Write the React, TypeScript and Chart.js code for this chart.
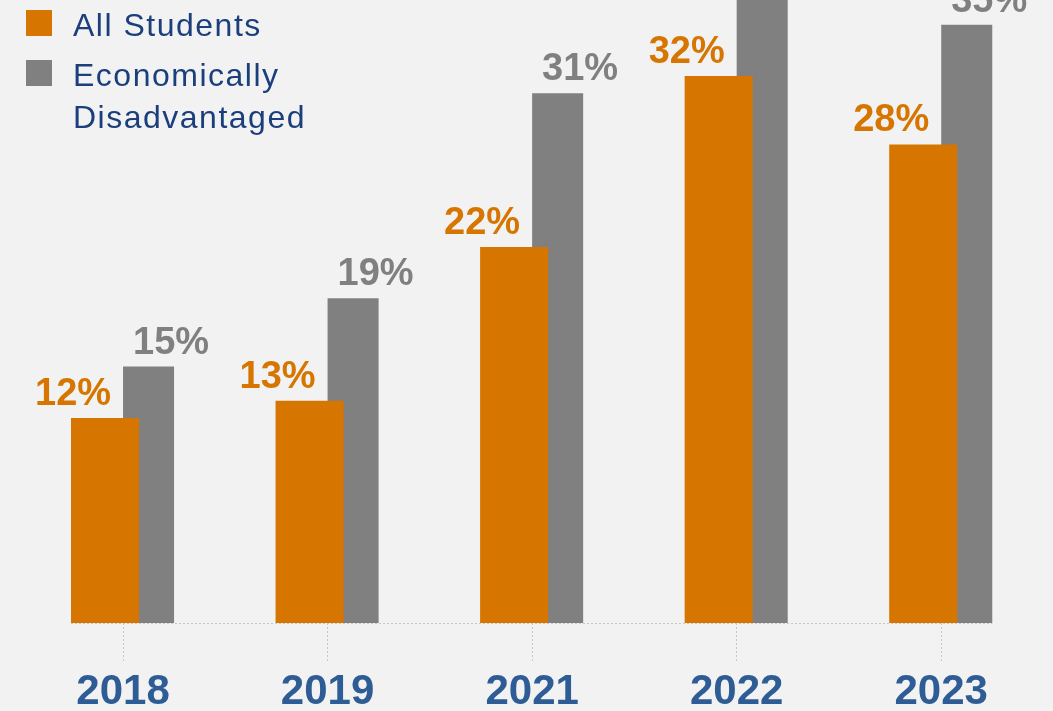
import React, { useEffect, useRef } from "react";
import { Chart, registerables } from "chart.js";

Chart.register(...registerables);

const categories = ["2018", "2019", "2021", "2022", "2023"];
const allStudents = [12, 13, 22, 32, 28];
const econDisadvantaged = [15, 19, 31, 38, 35];
const seriesNames = ["All Students", "Economically Disadvantaged"];
const legendLines = [["All Students"], ["Economically", "Disadvantaged"]];

const ORANGE = "#D67500";
const GRAY = "#808080";
const BG = "#F2F2F2";

const bgPlugin = {
  id: "bg",
  beforeDraw(chart: any) {
    const { ctx, width, height } = chart;
    ctx.save();
    ctx.fillStyle = BG;
    ctx.fillRect(0, 0, width, height);
    ctx.restore();
  },
};

const baselinePlugin = {
  id: "baseline",
  beforeDatasetsDraw(chart: any) {
    const { ctx, chartArea } = chart;
    const m0 = chart.getDatasetMeta(0).data;
    const m1 = chart.getDatasetMeta(1).data;
    if (!m0.length) return;
    const first = m0[0];
    const last = m1[m1.length - 1];
    const x0 = first.x - first.width / 2;
    const x1 = last.x + last.width / 2;
    ctx.save();
    ctx.strokeStyle = "#C8C8C8";
    ctx.lineWidth = 1;
    ctx.setLineDash([2, 2]);
    ctx.beginPath();
    ctx.moveTo(x0, chartArea.bottom + 0.5);
    ctx.lineTo(x1, chartArea.bottom + 0.5);
    ctx.stroke();
    ctx.restore();
  },
};

const labelPlugin = {
  id: "valueLabels",
  afterDatasetsDraw(chart: any) {
    const { ctx } = chart;
    const xScale = chart.scales.x;
    const offsets = [-50, 48];
    ctx.save();
    ctx.font = "bold 38px 'Liberation Sans', Arial, sans-serif";
    ctx.textAlign = "center";
    ctx.textBaseline = "alphabetic";
    chart.data.datasets.forEach((ds: any, di: number) => {
      const meta = chart.getDatasetMeta(di);
      meta.data.forEach((bar: any, i: number) => {
        const cx = xScale.getPixelForValue(i) + offsets[di];
        ctx.fillStyle = ds.backgroundColor;
        ctx.fillText(ds.data[i] + "%", cx, bar.y - 13);
      });
    });
    ctx.restore();
  },
};

const legendPlugin = {
  id: "customLegend",
  afterDraw(chart: any) {
    const { ctx } = chart;
    ctx.save();
    ctx.font = "32px 'Liberation Sans', Arial, sans-serif";
    (ctx as any).letterSpacing = "1.5px";
    ctx.textAlign = "left";
    ctx.textBaseline = "alphabetic";
    const squareTops = [10, 60];
    const baselines = [35.5, 86];
    chart.data.datasets.forEach((ds: any, di: number) => {
      ctx.fillStyle = ds.backgroundColor;
      ctx.fillRect(26, squareTops[di], 26, 26);
      ctx.fillStyle = "#1B3F7C";
      legendLines[di].forEach((line: string, li: number) => {
        ctx.fillText(line, 73, baselines[di] + li * 42);
      });
    });
    ctx.restore();
  },
};

export default function App() {
  const ref = useRef<HTMLCanvasElement | null>(null);
  useEffect(() => {
    document.body.style.background = BG;
    if (!ref.current) return;
    const chart = new Chart(ref.current, {
      type: "bar",
      data: {
        labels: categories,
        datasets: [
          {
            label: seriesNames[0],
            data: allStudents,
            backgroundColor: ORANGE,
            categoryPercentage: 0.352,
            barPercentage: 1.89,
          } as any,
          {
            label: seriesNames[1],
            data: econDisadvantaged,
            backgroundColor: GRAY,
            categoryPercentage: 0.499,
            barPercentage: 1.0,
          } as any,
        ],
      },
      options: {
        animation: false,
        responsive: true,
        maintainAspectRatio: false,
        layout: { padding: { left: 20.75, right: 9.5, top: 0, bottom: 0 } },
        plugins: {
          legend: { display: false },
          tooltip: { enabled: false },
          title: { display: false },
        },
        scales: {
          y: {
            display: false,
            min: 0,
            max: 36.45,
          },
          x: {
            afterFit(scale: any) {
              scale.height = 88;
            },
            border: { display: false },
            grid: {
              display: true,
              offset: false,
              drawOnChartArea: false,
              drawTicks: true,
              tickLength: 38,
              tickColor: "#C8C8C8",
              tickBorderDash: [2, 2],
              tickWidth: 1,
            } as any,
            ticks: {
              color: "#2E5C94",
              padding: 6,
              font: { family: "'Liberation Sans', Arial, sans-serif", size: 42, weight: "bold" },
            },
          },
        },
      },
      plugins: [bgPlugin, baselinePlugin, labelPlugin, legendPlugin],
    });
    return () => chart.destroy();
  }, []);
  return (
    <div style={{ position: "fixed", left: 0, top: 0, width: 1053, height: 711, background: BG }}>
      <canvas ref={ref} />
    </div>
  );
}
